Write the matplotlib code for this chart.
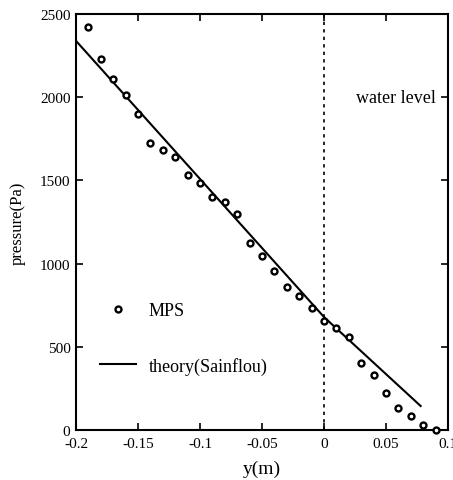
import matplotlib
matplotlib.use('Agg')
import matplotlib.pyplot as plt

# MPS pressure
y_mps = [-0.19, -0.18, -0.17, -0.16, -0.15, -0.14, -0.13, -0.12, -0.11, -0.10,
         -0.09, -0.08, -0.07, -0.06, -0.05, -0.04, -0.03, -0.02, -0.01, 0.0,
         0.01, 0.02, 0.03, 0.04, 0.05, 0.06, 0.07, 0.08, 0.09]
p_mps = [2422, 2230, 2110, 2013, 1899, 1725, 1683, 1640, 1532, 1484,
         1400, 1370, 1298, 1124, 1046, 955, 859, 805, 733, 655,
         613, 559, 403, 330, 222, 132, 84, 30, 0]

# Sainflou theory line
y_theory = [-0.2, 0.0, 0.078]
p_theory = [2338, 679, 144]

xticks = [-0.2, -0.15, -0.1, -0.05, 0, 0.05, 0.1]
xtick_labels = ['-0.2', '-0.15', '-0.1', '-0.05', '0', '0.05', '0.1']
yticks = [0, 500, 1000, 1500, 2000, 2500]

plt.rcParams['font.family'] = ['Liberation Serif', 'DejaVu Serif']

fig = plt.figure(figsize=(4.53, 4.81), dpi=100)
ax = fig.add_axes([0.1678, 0.104, 0.821, 0.865])

ax.plot(y_mps, p_mps, 'o', ms=4.3, mfc='white', mec='black', mew=1.7, label='MPS',
        clip_on=False, zorder=3)
ax.plot(y_theory, p_theory, '-', color='black', lw=1.5, label='theory(Sainflou)')
ax.axvline(0, color='black', lw=1.2, linestyle=(0, (2, 2.5)))

ax.text(0.09, 2000, 'water level', fontsize=13, ha='right', va='center')

ax.set_xlim(-0.2, 0.1)
ax.set_ylim(0, 2500)
ax.set_xticks(xticks)
ax.set_xticklabels(xtick_labels)
ax.set_yticks(yticks)
ax.tick_params(direction='in', top=True, right=True, length=5, width=1.2,
               labelsize=11)
ax.tick_params(axis='x', pad=5)
ax.tick_params(axis='y', pad=4)
for s in ax.spines.values():
    s.set_linewidth(1.5)

ax.set_xlabel('y(m)', fontsize=14, labelpad=7)
ax.set_ylabel('pressure(Pa)', fontsize=12, labelpad=10)

ax.legend(loc='center left', bbox_to_anchor=(0.0645, 0.22), frameon=False,
          fontsize=13, numpoints=1, handlelength=2.0, handletextpad=0.7,
          labelspacing=2.1, borderpad=0, borderaxespad=0)

fig.savefig('out.png', dpi=100)
